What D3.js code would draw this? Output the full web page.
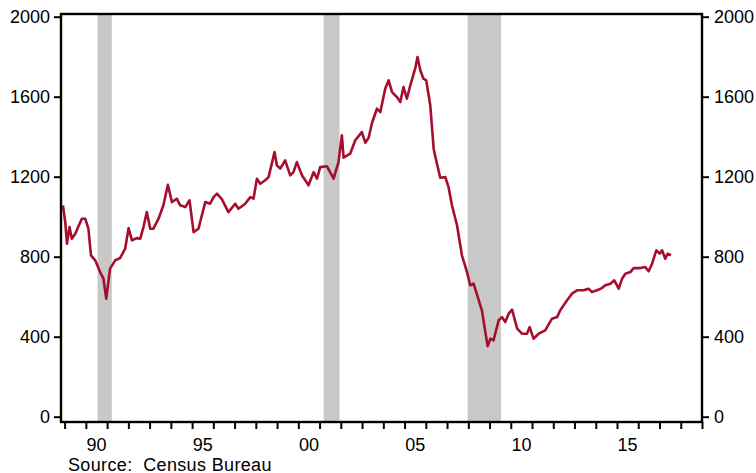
<!DOCTYPE html>
<html>
<head>
<meta charset="utf-8">
<script src="https://d3js.org/d3.v7.min.js"></script>
<style>
  body { margin: 0; background: #fff; }
  svg { display: block; }
  text { font-family: "Liberation Sans", Arial, sans-serif; fill: #000; }
</style>
</head>
<body>
<svg id="chart" width="756" height="473"></svg>
<script>
// single-family starts (decimal year, thousands)
var dates = [
  1988.92, 1989.03, 1989.11, 1989.23, 1989.34, 1989.50, 1989.81, 1989.97,
  1990.12, 1990.24, 1990.44, 1990.67, 1990.83, 1990.96, 1991.14, 1991.38,
  1991.61, 1991.85, 1992.01, 1992.17, 1992.40, 1992.56, 1992.71, 1992.87,
  1993.03, 1993.18, 1993.42, 1993.65, 1993.86, 1994.05, 1994.28, 1994.44,
  1994.68, 1994.88, 1995.07, 1995.30, 1995.62, 1995.85, 1996.01, 1996.17,
  1996.40, 1996.71, 1997.03, 1997.18, 1997.50, 1997.74, 1997.89, 1998.05,
  1998.21, 1998.44, 1998.60, 1998.88, 1998.99, 1999.15, 1999.38, 1999.62,
  1999.77, 1999.93, 2000.17, 2000.48, 2000.72, 2000.88, 2001.03, 2001.35,
  2001.66, 2001.89, 2002.05, 2002.13, 2002.44, 2002.68, 2002.99, 2003.15,
  2003.31, 2003.47, 2003.70, 2003.86, 2004.09, 2004.25, 2004.41, 2004.64,
  2004.80, 2004.95, 2005.11, 2005.27, 2005.50, 2005.61, 2005.74, 2005.89,
  2006.02, 2006.21, 2006.37, 2006.45, 2006.68, 2006.92, 2007.07, 2007.23,
  2007.47, 2007.70, 2007.94, 2008.09, 2008.25, 2008.64, 2008.91, 2009.04,
  2009.19, 2009.43, 2009.59, 2009.74, 2009.90, 2010.06, 2010.30, 2010.53,
  2010.76, 2010.89, 2011.07, 2011.31, 2011.62, 2011.94, 2012.18, 2012.33,
  2012.65, 2012.88, 2013.12, 2013.43, 2013.66, 2013.82, 2014.06, 2014.29,
  2014.45, 2014.69, 2014.87, 2015.08, 2015.24, 2015.39, 2015.63, 2015.78,
  2016.10, 2016.33, 2016.49, 2016.65, 2016.85, 2017.01, 2017.12, 2017.27,
  2017.38, 2017.54
];
var starts = [
  1056, 973, 865, 948, 890, 915, 990, 990,
  940, 807, 782, 723, 690, 590, 740, 782,
  793, 840, 943, 882, 893, 890, 948, 1023,
  940, 940, 990, 1057, 1160, 1073, 1090, 1057,
  1048, 1082, 923, 940, 1073, 1065, 1098, 1115,
  1088, 1023, 1065, 1040, 1065, 1098, 1090, 1190,
  1165, 1182, 1198, 1323, 1257, 1240, 1282, 1207,
  1223, 1273, 1207, 1157, 1223, 1190, 1248, 1252,
  1190, 1273, 1407, 1295, 1315, 1382, 1423, 1370,
  1395, 1470, 1540, 1523, 1640, 1682, 1623, 1598,
  1573, 1648, 1590, 1657, 1740, 1798, 1732, 1690,
  1682, 1557, 1340, 1300, 1195, 1198, 1148, 1057,
  957, 807, 723, 657, 665, 532, 353, 390,
  382, 482, 498, 473, 515, 535, 440, 415,
  415, 448, 390, 415, 432, 490, 498, 532,
  582, 615, 632, 632, 640, 623, 632, 643,
  657, 665, 682, 640, 690, 715, 723, 743,
  743, 748, 727, 765, 832, 815, 832, 790,
  815, 807
];

// recessions (shaded)
var recessionStart = [1990.55, 2001.19, 2007.97];
var recessionEnd   = [1991.22, 2001.94, 2009.54];

var yTicks = [0, 400, 800, 1200, 1600, 2000];
var yearTicks = d3.range(1989, 2020);
var labelYears = [1990, 1995, 2000, 2005, 2010, 2015];

// plot frame (note: "top" is taken by window.top)
var frameL = 61, frameR = 702, frameT = 14, frameB = 422;

var svg = d3.select('#chart');

var x = d3.scaleLinear().domain([1988.83, 2019]).range([frameL, frameR]);
var y = d3.scaleLinear().domain([0, 2000]).range([416.7, 16.7]);

// recession bars
svg.selectAll('rect.rec')
   .data(recessionStart)
   .enter()
   .append('rect')
     .attr('class', 'rec')
     .attr('x', function(d){ return x(d); })
     .attr('y', frameT)
     .attr('width', function(d, i){ return x(recessionEnd[i]) - x(d); })
     .attr('height', frameB - frameT)
     .style('fill', '#c8c8c8');

// the series
var line = d3.line()
   .x(function(d, i){ return x(dates[i]); })
   .y(function(d){ return y(d); });

svg.append('path')
   .datum(starts)
   .attr('d', line)
   .style('fill', 'none')
   .style('stroke', '#a50f2d')
   .style('stroke-width', 2.6)
   .style('stroke-linejoin', 'round');

// left and right value axes
var yLeft = d3.axisLeft(y).tickValues(yTicks).tickSize(7).tickPadding(4).tickFormat(d3.format('d'));
var yRight = d3.axisRight(y).tickValues(yTicks).tickSize(7).tickPadding(5).tickFormat(d3.format('d'));

svg.append('g').attr('transform', 'translate(' + frameL + ',0)').call(yLeft);
svg.append('g').attr('transform', 'translate(' + frameR + ',0)').call(yRight);

// year ticks, labels sit in the middle of the year
var xAxis = d3.axisBottom(x).tickValues(yearTicks).tickSize(7).tickFormat('');
svg.append('g').attr('transform', 'translate(0,' + frameB + ')').call(xAxis);

svg.selectAll('text.year')
   .data(labelYears)
   .enter()
   .append('text')
     .attr('class', 'year')
     .attr('x', function(d){ return x(d + 0.5); })
     .attr('y', 450.5)
     .attr('text-anchor', 'middle')
     .style('font-size', '18px')
     .text(function(d){ return d3.format('02d')(d % 100); });

svg.selectAll('.domain').remove();
svg.selectAll('.tick line').style('stroke', '#000').style('stroke-width', 2);
svg.selectAll('.tick text').style('font-size', '18px').style('fill', '#000');

// frame
svg.append('rect')
   .attr('x', frameL)
   .attr('y', frameT)
   .attr('width', frameR - frameL)
   .attr('height', frameB - frameT)
   .style('fill', 'none')
   .style('stroke', '#000')
   .style('stroke-width', 2.4);

svg.append('text')
   .attr('x', 68)
   .attr('y', 470.5)
   .style('font-size', '18px')
   .style('letter-spacing', '0.35px')
   .style('white-space', 'pre')
   .text('Source:  Census Bureau');
</script>
</body>
</html>
